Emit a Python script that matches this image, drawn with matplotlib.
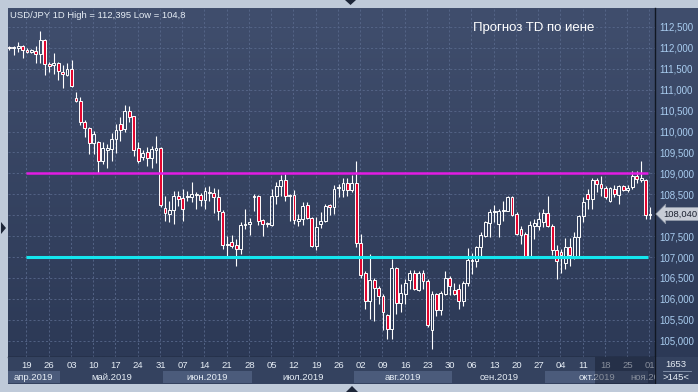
import matplotlib

matplotlib.use("Agg")
import matplotlib.pyplot as plt
import numpy as np
import pandas as pd
from matplotlib.colors import LinearSegmentedColormap
from matplotlib.patches import Polygon, Rectangle

# USD/JPY daily, 2019-04-15 .. 2019-11-01 (145 bars)
START, END = "2019-04-15", "2019-11-01"
OPEN = [
    112.01, 112.00, 112.00, 112.05, 111.96, 111.90, 111.93, 111.86, 112.19, 111.62,
    111.58, 111.64, 111.43, 111.36, 111.50, 110.80, 110.73, 110.23, 110.08, 109.73,
    109.76, 109.29, 109.57, 109.58, 109.82, 110.18, 110.05, 110.48, 110.36, 109.61,
    109.38, 109.52, 109.36, 109.57, 109.61, 108.17, 108.04, 108.12, 108.47, 108.40,
    108.43, 108.43, 108.48, 108.49, 108.36, 108.56, 108.54, 108.43, 108.08, 107.28,
    107.36, 107.29, 107.19, 107.76, 107.78, 108.44, 108.47, 107.89, 107.81, 107.77,
    108.47, 108.69, 108.85, 108.46, 108.48, 107.87, 107.90, 108.24, 107.93, 107.27,
    107.78, 107.86, 108.24, 108.20, 108.64, 108.61, 108.77, 108.60, 108.77, 107.33,
    106.62, 105.95, 106.46, 106.26, 106.07, 105.61, 105.28, 106.74, 105.90, 106.11,
    106.46, 106.63, 106.21, 106.63, 106.43, 105.26, 106.11, 105.74, 106.11, 106.50,
    106.21, 106.23, 105.94, 106.37, 106.90, 106.91, 107.23, 107.51, 107.81, 108.07,
    107.79, 108.11, 108.11, 108.44, 108.03, 107.68, 107.55, 107.03, 107.75, 107.75,
    107.83, 108.05, 107.75, 107.17, 107.13, 106.85, 107.25, 107.03, 107.48, 107.99,
    108.51, 108.39, 108.85, 108.75, 108.65, 108.33, 108.63, 108.48, 108.70, 108.61,
    108.67, 108.94, 108.84, 108.85, 108.00,
]
HIGH = [
    112.04, 112.04, 112.15, 112.07, 111.99, 111.98, 112.04, 112.395, 112.21, 111.66,
    111.88, 111.67, 111.60, 111.63, 111.70, 110.95, 110.83, 110.28, 110.10, 110.02,
    109.78, 109.74, 109.70, 109.97, 110.18, 110.34, 110.64, 110.60, 110.38, 109.74,
    109.57, 109.62, 109.66, 109.90, 109.62, 108.45, 108.35, 108.57, 108.57, 108.63,
    108.59, 108.80, 108.56, 108.53, 108.67, 108.69, 108.64, 108.63, 108.13, 107.51,
    107.52, 107.43, 107.83, 108.16, 107.93, 108.51, 108.48, 107.92, 107.83, 108.63,
    108.79, 108.96, 108.98, 108.51, 108.61, 108.03, 108.31, 108.32, 107.95, 107.96,
    108.07, 108.27, 108.27, 108.72, 108.75, 108.90, 108.90, 108.96, 109.30, 107.55,
    106.67, 107.07, 106.50, 106.30, 106.11, 105.64, 106.95, 106.75, 106.35, 106.47,
    106.70, 106.70, 106.67, 106.70, 106.47, 106.19, 106.15, 106.19, 106.67, 106.54,
    106.39, 106.35, 106.43, 107.21, 107.09, 107.27, 107.59, 107.87, 108.16, 108.24,
    108.16, 108.35, 108.47, 108.47, 108.07, 107.75, 107.59, 107.87, 107.92, 108.07,
    108.16, 108.45, 107.79, 107.29, 107.19, 107.45, 107.45, 107.59, 108.00, 108.43,
    108.63, 108.90, 108.90, 108.93, 108.70, 108.67, 108.72, 108.72, 108.73, 108.72,
    109.05, 109.05, 109.29, 108.87, 108.19,
]
LOW = [
    111.96, 111.83, 111.90, 111.76, 111.88, 111.87, 111.64, 111.64, 111.36, 111.42,
    111.38, 111.24, 111.04, 111.32, 111.06, 110.70, 110.16, 109.88, 109.46, 109.46,
    109.02, 109.22, 109.14, 109.30, 109.49, 109.78, 110.00, 110.22, 109.41, 109.26,
    109.33, 109.18, 109.14, 109.26, 108.19, 107.87, 107.84, 107.80, 108.23, 107.85,
    108.35, 108.31, 108.16, 108.23, 108.15, 108.35, 108.05, 107.89, 107.19, 107.03,
    107.21, 106.78, 107.07, 107.67, 107.53, 108.09, 107.76, 107.51, 107.71, 107.75,
    108.27, 108.47, 108.33, 107.87, 107.78, 107.75, 107.76, 107.92, 107.23, 107.17,
    107.69, 107.83, 108.00, 108.03, 108.43, 108.43, 108.47, 108.55, 107.23, 106.50,
    105.76, 105.52, 105.48, 105.87, 105.26, 105.04, 105.04, 105.64, 105.68, 105.87,
    106.23, 106.22, 106.19, 106.23, 105.32, 104.80, 105.60, 105.61, 106.09, 106.10,
    106.09, 105.76, 105.83, 106.31, 106.59, 106.75, 106.99, 107.49, 107.49, 107.84,
    107.48, 107.87, 108.09, 107.99, 107.53, 107.31, 106.97, 107.00, 107.43, 107.65,
    107.71, 107.71, 107.05, 106.47, 106.63, 106.71, 106.79, 106.95, 107.03, 107.83,
    108.15, 108.15, 108.55, 108.47, 108.39, 108.31, 108.43, 108.27, 108.59, 108.55,
    108.63, 108.77, 108.80, 107.92, 107.91,
]
CLOSE = [
    112.00, 112.02, 112.05, 111.96, 111.90, 111.94, 111.86, 112.20, 111.62, 111.57,
    111.64, 111.44, 111.37, 111.50, 111.08, 110.72, 110.22, 110.08, 109.73, 109.94,
    109.29, 109.61, 109.61, 109.82, 110.04, 110.04, 110.48, 110.34, 109.57, 109.30,
    109.49, 109.37, 109.58, 109.61, 108.24, 108.05, 108.13, 108.47, 108.38, 108.16,
    108.47, 108.51, 108.51, 108.37, 108.57, 108.53, 108.43, 108.09, 107.29, 107.31,
    107.27, 107.19, 107.76, 107.79, 107.84, 108.47, 107.85, 107.78, 107.79, 108.47,
    108.70, 108.85, 108.47, 108.49, 107.88, 107.92, 108.22, 107.93, 107.27, 107.71,
    107.86, 108.23, 108.19, 108.63, 108.68, 108.77, 108.60, 108.77, 107.33, 106.57,
    105.95, 106.46, 106.26, 106.07, 105.68, 105.28, 106.74, 105.90, 106.15, 106.37,
    106.63, 106.23, 106.63, 106.43, 105.37, 106.12, 105.74, 106.14, 106.50, 106.30,
    106.11, 105.95, 106.39, 106.93, 106.93, 107.23, 107.53, 107.83, 108.07, 108.11,
    108.11, 108.13, 108.44, 108.01, 107.55, 107.53, 107.03, 107.76, 107.81, 107.92,
    108.05, 107.75, 107.17, 106.91, 107.05, 107.23, 107.05, 107.48, 107.99, 108.32,
    108.39, 108.85, 108.75, 108.64, 108.43, 108.65, 108.51, 108.70, 108.61, 108.66,
    108.94, 108.86, 108.88, 108.00, 108.04,
]
LEVEL_TOP = 109.0
LEVEL_BOTTOM = 107.0
PRICE_TICKS = [105.0, 105.5, 106.0, 106.5, 107.0, 107.5, 108.0, 108.5,
               109.0, 109.5, 110.0, 110.5, 111.0, 111.5, 112.0, 112.5]
MONTH_LABELS = ["апр.2019", "май.2019", "июн.2019", "июл.2019",
                "авг.2019", "сен.2019", "окт.2019", "ноя.2019"]
TITLE = "USD/JPY 1D High = 112,395 Low = 104,8"
NOTE = "Прогноз TD по иене"
LAST_PRICE = "108,040"
CORNER_TOP, CORNER_BOTTOM = "1653", ">145<"

W, H = 698, 392
XLIM = (-0.27, 145.12)
YLIM = (104.61, 112.954)
BG_TOP, BG_BOTTOM = "#404e6d", "#2c3956"
GRID = "#58688b"
RED = "#e3062f"
FRAME = "#bfcad9"
BAND = "#34425f"
BAND_BOX = "#4b5b7b"
TEXT = "#e6edf5"


def fig_box(x0, y0, x1, y1):
    return [x0 / W, 1 - y1 / H, (x1 - x0) / W, (y1 - y0) / H]


def px(x, y):
    return (x / W, 1 - y / H)


def price_label(p):
    # the 108,000 label sits under the last-price marker in the terminal
    return "" if p == 108.0 else f"{p:.3f}".replace(".", ",")


def draw_candles(ax):
    for i, (o, h, l, c) in enumerate(zip(OPEN, HIGH, LOW, CLOSE)):
        top, bottom = max(o, c), min(o, c)
        ax.vlines(i, top, h, color="white", lw=0.8, zorder=4)
        ax.vlines(i, l, bottom, color="white", lw=0.8, zorder=4)
        face = RED if c < o else "none"
        ax.add_patch(Rectangle((i - 0.32, bottom), 0.64, max(top - bottom, 0.01),
                               facecolor=face, edgecolor="white", lw=0.7, zorder=5))


def main():
    plt.rcParams["font.family"] = ["Liberation Sans", "DejaVu Sans"]
    dates = pd.bdate_range(START, END)
    idx = np.arange(len(dates))

    fig = plt.figure(figsize=(W / 100, H / 100), dpi=100, facecolor=FRAME)

    # gradient behind plot and price scale
    bg = fig.add_axes(fig_box(8, 8, 698, 357), zorder=0)
    cmap = LinearSegmentedColormap.from_list("bg", [BG_TOP, BG_BOTTOM])
    bg.imshow(np.linspace(0, 1, 256).reshape(-1, 1), cmap=cmap, aspect="auto",
              extent=[0, 1, 0, 1])
    bg.set_axis_off()

    ax = fig.add_axes(fig_box(8, 8, 655, 357), zorder=1)
    ax.patch.set_alpha(0)
    ax.set_xlim(*XLIM)
    ax.set_ylim(*YLIM)
    for s in ax.spines.values():
        s.set_color("#111722")
        s.set_linewidth(1.0)
    ax.spines["left"].set_visible(False)
    ax.spines["top"].set_visible(False)

    fridays = idx[dates.weekday == 4]
    for y in PRICE_TICKS:
        ax.axhline(y, color=GRID, lw=0.6, dashes=(2.5, 2.5), zorder=1)
    for x in fridays:
        ax.axvline(x - 0.15, color=GRID, lw=0.6, dashes=(2.5, 2.5), zorder=1)

    ax.hlines(LEVEL_TOP, 3.8, 143.6, color="#e31ce3", lw=1.8, zorder=6)
    ax.hlines(LEVEL_BOTTOM, 3.8, 143.6, color="#14e6ee", lw=2.2, zorder=6)
    draw_candles(ax)

    ax.set_xticks([])
    ax.yaxis.tick_right()
    ax.set_yticks(PRICE_TICKS)
    ax.set_yticklabels([price_label(p) for p in PRICE_TICKS])
    ax.tick_params(axis="y", length=0, pad=3, labelsize=7, labelcolor="#a9cdf0")

    # date band
    band = fig.add_axes(fig_box(8, 357, 655, 384), zorder=1)
    band.set_facecolor(BAND)
    band.set_xlim(*XLIM)
    band.set_ylim(27, 0)
    band.set_xticks([])
    band.set_yticks([])
    for s in band.spines.values():
        s.set_visible(False)
    for x in fridays:
        band.text(x, 9, f"{dates[x].day:02d}", ha="center", va="center",
                  fontsize=6.8, color=TEXT, clip_on=True)
    months = dates.month
    for k, m in enumerate(sorted(set(months))):
        span = idx[months == m]
        if k % 2 == 0:
            band.add_patch(Rectangle((span[0] - 0.5, 14), span[-1] - span[0] + 1, 12,
                                     facecolor=BAND_BOX, edgecolor="none", zorder=1))
        # the label of a month that has just begun is cut by the price scale
        band.text((span[0] + span[-1]) / 2, 20.5, MONTH_LABELS[k], ha="center",
                  va="center", fontsize=6.8, color=TEXT, zorder=2, clip_on=True)
    band.add_patch(Rectangle((131.6, 0), XLIM[1] - 131.6, 27, facecolor="#141b2e",
                             alpha=0.45, edgecolor="none", zorder=3))

    corner = fig.add_axes(fig_box(655, 357, 698, 384), zorder=2)
    corner.set_facecolor(BAND)
    corner.set_xlim(0, 43)
    corner.set_ylim(27, 0)
    corner.set_xticks([])
    corner.set_yticks([])
    for s in corner.spines.values():
        s.set_visible(False)
    corner.axvline(0, color="#111722", lw=1.0)
    corner.text(21, 7.5, CORNER_TOP, ha="center", va="center", fontsize=6.8, color=TEXT)
    corner.plot([8, 36], [14, 14], color="#8c9ab2", lw=0.6)
    corner.text(21, 20.5, CORNER_BOTTOM, ha="center", va="center", fontsize=6.8, color=TEXT)

    fig.text(*px(10, 15.5), TITLE, fontsize=6.8, color=TEXT, va="center")
    fig.text(*px(534, 28), NOTE, fontsize=9.5, color="white", ha="center", va="center")
    fig.text(*px(663, 214), LAST_PRICE, fontsize=6.8, color="#1c2230", va="center",
             bbox=dict(boxstyle="larrow,pad=0.22", fc="#c8cdd6", ec="#8f98a8", lw=0.5))

    tri = "#1d2638"
    for pts in ([(1, 222), (6, 228), (1, 234)],
                [(345, 0), (356, 0), (350.5, 5)],
                [(346, 392), (358, 392), (352, 386)]):
        fig.patches.append(Polygon([px(*p) for p in pts], closed=True, facecolor=tri,
                                   edgecolor="none", transform=fig.transFigure))

    fig.savefig("out.png", dpi=100, facecolor=FRAME)
    plt.close(fig)


if __name__ == "__main__":
    main()
